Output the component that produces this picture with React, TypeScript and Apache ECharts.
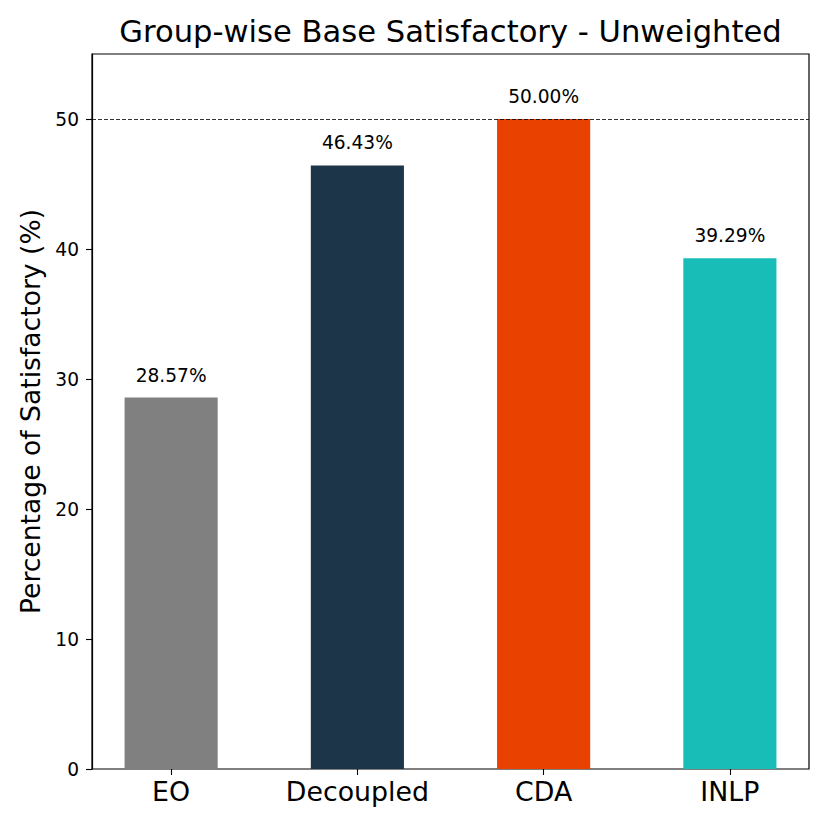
import React, { useEffect, useRef } from "react";
import * as echarts from "echarts";

const categories = ["EO", "Decoupled", "CDA", "INLP"];
const values = [28.57, 46.43, 50.0, 39.29];
const barColors = ["#808080", "#1d3549", "#e84100", "#19bdb7"];
const yTicks = [0, 10, 20, 30, 40, 50];
const referenceLine = 50;
const yMax = 55;

const FONT = "DejaVu Sans";

export default function App() {
  const ref = useRef<HTMLDivElement>(null);
  useEffect(() => {
    if (!ref.current) return;
    const chart = echarts.init(ref.current, undefined, { renderer: "svg" });
    const option: any = {
      animation: false,
      backgroundColor: "#ffffff",
      textStyle: { fontFamily: FONT },
      title: {
        text: "Group-wise Base Satisfactory - Unweighted",
        left: 450.5,
        top: 16,
        textAlign: "center",
        padding: 0,
        textStyle: { fontFamily: FONT, fontSize: 30.6, fontWeight: "normal", color: "#000" },
      },
      grid: [
        {
          left: 92,
          right: 21,
          top: 54,
          bottom: 61,
          show: true,
          borderColor: "#000",
          borderWidth: 1.2,
          backgroundColor: "transparent",
        },
        { left: 78, width: 745, top: 54, bottom: 61 },
      ],
      xAxis: [
        { type: "category", gridIndex: 0, data: categories, show: false },
        {
          type: "category",
          gridIndex: 1,
          data: categories,
          axisLine: { show: false },
          axisTick: {
            show: true,
            alignWithLabel: true,
            length: 6,
            lineStyle: { color: "#000", width: 1.1 },
          },
          axisLabel: { fontFamily: FONT, fontSize: 26.8, color: "#000", margin: 9 },
        },
      ],
      yAxis: [
        {
          type: "value",
          gridIndex: 0,
          min: 0,
          max: yMax,
          interval: 10,
          name: "Percentage of Satisfactory (%)",
          nameLocation: "middle",
          nameGap: 46,
          nameTextStyle: { fontFamily: FONT, fontSize: 26.6, color: "#000" },
          axisLine: { show: true, lineStyle: { color: "#000", width: 1.2 } },
          axisTick: {
            show: true,
            length: 6,
            customValues: yTicks,
            lineStyle: { color: "#000", width: 1.1 },
          },
          axisLabel: {
            customValues: yTicks,
            fontFamily: FONT,
            fontSize: 18.6,
            color: "#000",
            margin: 13,
          },
          splitLine: { show: false },
        },
        { type: "value", gridIndex: 1, min: 0, max: yMax, show: false, splitLine: { show: false } },
      ],
      series: [
        {
          type: "bar",
          xAxisIndex: 1,
          yAxisIndex: 1,
          barWidth: "50%",
          data: values.map((v, i) => ({ value: v, itemStyle: { color: barColors[i] } })),
          label: {
            show: true,
            position: "top",
            distance: 13,
            fontFamily: FONT,
            fontSize: 18.6,
            color: "#000",
            formatter: (p: any) => `${Number(p.value).toFixed(2)}%`,
          },
        },
        {
          type: "line",
          xAxisIndex: 0,
          yAxisIndex: 0,
          data: [],
          markLine: {
            silent: true,
            symbol: "none",
            label: { show: false },
            lineStyle: { color: "#000", type: [4, 2], width: 0.8 },
            data: [{ yAxis: referenceLine }],
          },
        },
      ],
    };
    chart.setOption(option);
    return () => chart.dispose();
  }, []);
  return (
    <div
      ref={ref}
      style={{ position: "absolute", left: 0, top: 0, width: 830, height: 830 }}
    />
  );
}
